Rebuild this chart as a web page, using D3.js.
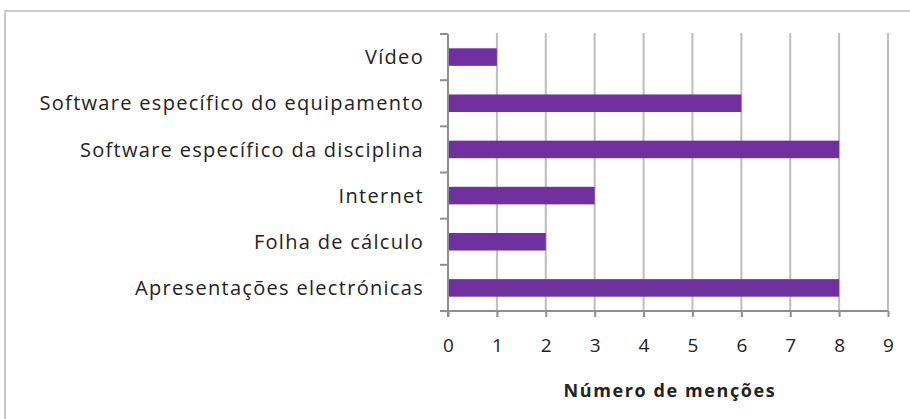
<!DOCTYPE html>
<html>
<head>
<meta charset="utf-8">
<script src="https://cdn.jsdelivr.net/npm/d3@7"></script>
<style>
  html, body { margin: 0; padding: 0; background: #fff; }
  svg { display: block; }
  text { font-family: "Open Sans", sans-serif; fill: #222; }
</style>
</head>
<body>
<svg id="chart" width="910" height="419"></svg>
<script>
const categories = [
  "Vídeo",
  "Software específico do equipamento",
  "Software específico da disciplina",
  "Internet",
  "Folha de cálculo",
  "Apresentações electrónicas"
];
const values = [1, 6, 8, 3, 2, 8];
const tickValues = [0, 1, 2, 3, 4, 5, 6, 7, 8, 9];
const xTitle = "Número de menções";

const svg = d3.select("#chart");
const plot = { left: 448, right: 888, top: 34, bottom: 311 };

// outer frame (left and top edges visible, extends beyond window)
svg.append("rect")
  .attr("x", 5).attr("y", 11)
  .attr("width", 920).attr("height", 420)
  .attr("fill", "none").attr("stroke", "#c9c9c9").attr("stroke-width", 2);

const x = d3.scaleLinear().domain([0, 9]).range([plot.left, plot.right]);
const y = d3.scaleBand().domain(categories).range([plot.top, plot.bottom])
  .paddingInner(0.62).paddingOuter(0.31);
const yFull = d3.scaleBand().domain(categories).range([plot.top, plot.bottom]).padding(0);

// gridlines
svg.append("g").selectAll("line").data(tickValues.filter(d => d > 0)).join("line")
  .attr("x1", d => x(d)).attr("x2", d => x(d))
  .attr("y1", plot.top - 1).attr("y2", plot.bottom)
  .attr("stroke", "#bdbdbd").attr("stroke-width", 2);

// bars
svg.append("g").selectAll("rect").data(categories).join("rect")
  .attr("x", x(0) + 1)
  .attr("y", d => y(d))
  .attr("width", (d, i) => x(values[i]) - x(0) - 1)
  .attr("height", y.bandwidth())
  .attr("fill", "#7030a0");

// x axis
const xAxis = d3.axisBottom(x).tickValues(tickValues).tickSize(6).tickPadding(22)
  .tickFormat(d3.format("d"));
const gx = svg.append("g").attr("transform", `translate(0,${plot.bottom})`).call(xAxis);
gx.select(".domain").attr("stroke", "#8e8e8e").attr("stroke-width", 2)
  .attr("d", `M${plot.left - 8},0H${plot.right}`);
gx.selectAll(".tick line").attr("stroke", "#8e8e8e").attr("stroke-width", 2);
gx.selectAll(".tick text")
  .style("font-family", "'Open Sans', sans-serif")
  .style("font-size", "19px").attr("fill", "#222");

// y axis: line + ticks at band boundaries
const gy = svg.append("g");
gy.append("line")
  .attr("x1", plot.left).attr("x2", plot.left)
  .attr("y1", plot.top).attr("y2", plot.bottom + 6)
  .attr("stroke", "#8e8e8e").attr("stroke-width", 2);
const boundaries = categories.map(c => yFull(c)).concat([plot.bottom]);
gy.selectAll("line.yt").data(boundaries).join("line").attr("class", "yt")
  .attr("x1", plot.left - 8).attr("x2", plot.left)
  .attr("y1", d => d).attr("y2", d => d)
  .attr("stroke", "#8e8e8e").attr("stroke-width", 2);

// category labels
svg.append("g").selectAll("text").data(categories).join("text")
  .attr("x", 424)
  .attr("y", d => yFull(d) + yFull.bandwidth() / 2)
  .attr("dy", "0.36em")
  .attr("text-anchor", "end")
  .style("font-size", "20px")
  .style("letter-spacing", "1.3px")
  .text(d => d);

// axis title
svg.append("text")
  .attr("x", 670).attr("y", 397)
  .attr("text-anchor", "middle")
  .style("font-size", "18px").style("font-weight", "bold")
  .style("letter-spacing", "1.6px")
  .text(xTitle);
</script>
</body>
</html>
